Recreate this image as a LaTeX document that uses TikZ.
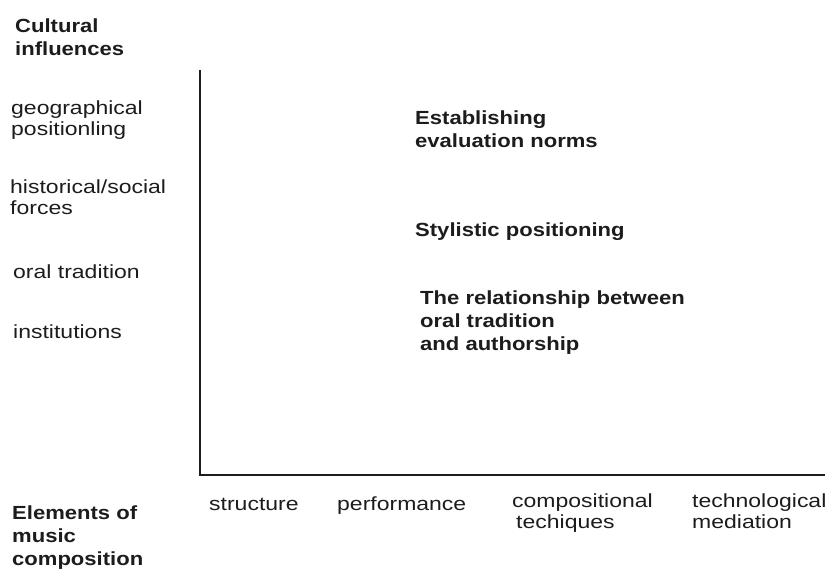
\documentclass[tikz,border=0pt]{standalone}
\usepackage{fontspec}
\newfontfamily\regf{Liberation Sans}[FakeStretch=1.21]
\newfontfamily\boldf{Liberation Sans Bold}[FakeStretch=1.16]
\definecolor{ink}{HTML}{1C1C1C}
\begin{document}
\begin{tikzpicture}[x=1pt,y=-1pt,
  reg/.style={anchor=base west,inner sep=0pt,align=left,text=ink,font=\regf\fontsize{19}{20.5}\selectfont},
  bld/.style={anchor=base west,inner sep=0pt,align=left,text=ink,font=\boldf\fontsize{19}{23}\selectfont},
  axisline/.style={draw=ink,line width=1.6pt}]
\useasboundingbox[fill=white] (0,0) rectangle (834,568);
% axes
\coordinate (top) at (200,70);
\coordinate (origin) at (200,475);
\coordinate (right) at (825,475);
\draw[axisline] (top) -- (origin) -- (right);
% (multi-line nodes are placed by the baseline of their last line)
% left axis title and items
\node[bld] (cult) at (15,55) {Cultural\\influences};
\node[reg] (geo) at (11,135) {geographical\\positionling};
\node[reg] (hist) at (10,214) {historical/social\\forces};
\node[reg] (oral) at (13,278) {oral tradition};
\node[reg] (inst) at (13,338) {institutions};
% inner labels
\node[bld] (eval) at (415,147) {Establishing\\evaluation norms};
\node[bld] (styl) at (415,236) {Stylistic positioning};
\node[bld] (rel) at (420,350) {The relationship between\\oral tradition\\and authorship};
% bottom axis title and items
\node[bld] (elem) at (12,565) {Elements of\\music\\composition};
\node[reg] (struc) at (209,510) {structure};
\node[reg] (perf) at (337,510) {performance};
\node[reg] (comp) at (512,528) {compositional\\\hspace*{4pt}techiques};
\node[reg] (tech) at (692,528) {technological\\mediation};
\end{tikzpicture}
\end{document}
